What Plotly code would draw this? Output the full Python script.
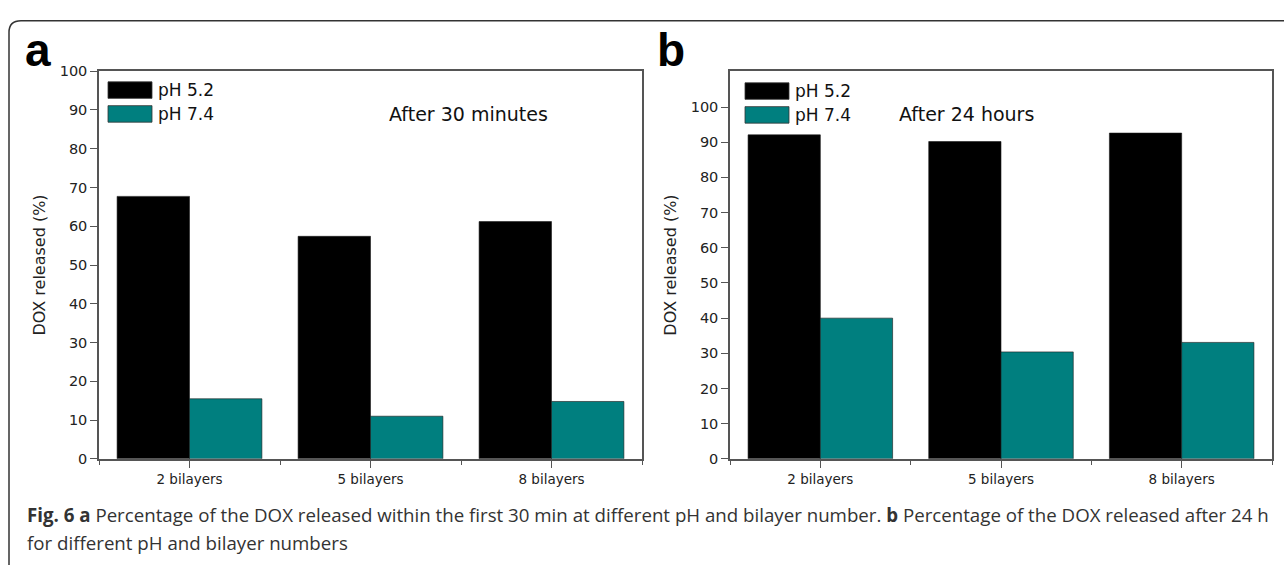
import plotly.graph_objects as go

categories = ["2 bilayers", "5 bilayers", "8 bilayers"]
a_ph52 = [67.7, 57.4, 61.2]
a_ph74 = [15.5, 11.0, 14.8]
b_ph52 = [92.1, 90.2, 92.6]
b_ph74 = [40.0, 30.4, 33.1]
series_names = ["pH 5.2", "pH 7.4"]
colors = ["#000000", "#007f7f"]

W, H = 1284, 565
def px(x): return x / W
def py(y): return 1 - y / H

FONT = "DejaVu Sans"
xpos = list(range(len(categories)))
fig = go.Figure()
for vals, name, col, xa, ya in [
    (a_ph52, series_names[0], colors[0], "x", "y"),
    (a_ph74, series_names[1], colors[1], "x", "y"),
    (b_ph52, series_names[0], colors[0], "x2", "y2"),
    (b_ph74, series_names[1], colors[1], "x2", "y2"),
]:
    fig.add_trace(go.Bar(x=xpos, y=vals, name=name, marker=dict(color=col, line=dict(width=0.6, color="#1a1a1a")),
                         xaxis=xa, yaxis=ya, showlegend=False, offsetgroup=name))

axis_common = dict(showline=True, linecolor="#555555", linewidth=1.5, mirror=True,
                   ticks="outside", tickcolor="#555555", ticklen=7, tickwidth=1.2,
                   showgrid=False, zeroline=False,
                   tickfont=dict(family=FONT, size=14.5, color="#222222"))
xcommon = dict(axis_common, tickmode="array", tickvals=xpos, ticktext=categories, range=[-0.5, 2.5],
               ticklen=7, tickfont=dict(family=FONT, size=13.5, color="#222222"),
               minor=dict(tickmode="array", tickvals=[-0.5, 0.5, 1.5, 2.5], ticks="outside", ticklen=4,
                          tickcolor="#555555", tickwidth=1.2))
ytitle = dict(text="DOX released (%)", font=dict(family=FONT, size=16, color="#222222"), standoff=10)

fig.update_layout(
    width=W, height=H, margin=dict(l=0, r=0, t=0, b=0),
    paper_bgcolor="white", plot_bgcolor="white",
    barmode="group", bargap=0.2, bargroupgap=0,
    xaxis=dict(xcommon, domain=[px(99), px(642)], anchor="y"),
    yaxis=dict(axis_common, domain=[py(464), py(65)], range=[0, 100], dtick=10, anchor="x", title=ytitle),
    xaxis2=dict(xcommon, domain=[px(730), px(1272)], anchor="y2"),
    yaxis2=dict(axis_common, domain=[py(464), py(65)], range=[0, 110.2], tickvals=list(range(0, 101, 10)),
                anchor="x2", title=ytitle),
    showlegend=False,
)

shapes = []
annotations = []
# outer rounded border (clipped right & bottom)
r = 12
x0, y0 = 9, 13
x1, y1 = 1300, 600
path = (f"M {px(x0)},{py(y1)} L {px(x0)},{py(y0 + r)} Q {px(x0)},{py(y0)} {px(x0 + r)},{py(y0)} "
        f"L {px(x1)},{py(y0)}")
shapes.append(dict(type="path", xref="paper", yref="paper", path=path, line=dict(color="#333333", width=1.5)))

# legends
for lx, ltop in ((108, 76), (745, 77)):
    for i, (name, col) in enumerate(zip(series_names, colors)):
        top = ltop + i * 24.5
        shapes.append(dict(type="rect", xref="paper", yref="paper", x0=px(lx), x1=px(lx + 44),
                           y0=py(top + 17), y1=py(top), fillcolor=col, line=dict(color="#333333", width=0.8)))
        annotations.append(dict(x=px(lx + 48), y=py(top + 8.5), xref="paper", yref="paper", text=name,
                                showarrow=False, xanchor="left", yanchor="middle",
                                font=dict(family=FONT, size=17, color="#111111")))

annotations.append(dict(x=px(387), y=py(96), xref="paper", yref="paper", text="After 30 minutes",
                        showarrow=False, font=dict(family=FONT, size=19, color="#111111")))
annotations.append(dict(x=px(1036), y=py(96), xref="paper", yref="paper", text="After 24 hours",
                        showarrow=False, font=dict(family=FONT, size=19, color="#111111")))
annotations.append(dict(x=px(23), y=py(43), xref="paper", yref="paper", text="<b>a</b>", showarrow=False,
                        xanchor="left", yanchor="middle",
                        font=dict(family="Liberation Sans, Arial", size=46, color="#000000")))
annotations.append(dict(x=px(655), y=py(43), xref="paper", yref="paper", text="<b>b</b>", showarrow=False,
                        xanchor="left", yanchor="middle",
                        font=dict(family="Liberation Sans, Arial", size=46, color="#000000")))

cap1 = ("<b>Fig. 6 a</b> Percentage of the DOX released within the first 30 min at different pH and bilayer number. "
        "<b>b</b> Percentage of the DOX released after 24 h")
cap2 = "for different pH and bilayer numbers"
for txt, yy in ((cap1, 521), (cap2, 550)):
    annotations.append(dict(x=px(25), y=py(yy), xref="paper", yref="paper", text=txt, showarrow=False,
                            xanchor="left", yanchor="middle",
                            font=dict(family="Open Sans", size=18.7, color="#333333")))

fig.update_layout(shapes=shapes, annotations=annotations)
fig.write_html("out.html", config={"displayModeBar": False},
               post_script="document.body.style.margin='0px';document.body.style.overflow='hidden';")
